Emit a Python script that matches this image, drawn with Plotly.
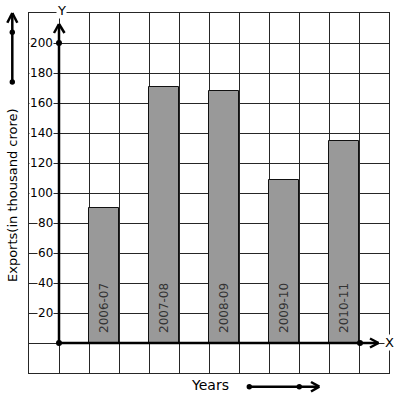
import plotly.graph_objects as go

years = ["2006-07", "2007-08", "2008-09", "2009-10", "2010-11"]
exports = [90, 171, 168, 109, 135]
y_ticks = [20, 40, 60, 80, 100, 120, 140, 160, 180, 200]

W, H = 397, 399
L, T, PW, PH = 29, 13, 360, 360
XMIN, XMAX = -1, 11
YMIN, YMAX = -20, 220

def px2x(px):
    return XMIN + (px - L) / PW * (XMAX - XMIN)

def py2y(py):
    return YMAX - (py - T) / PH * (YMAX - YMIN)

def px2p(px):
    return (px - L) / PW

def py2p(py):
    return (T + PH - py) / PH

FONT = "DejaVu Sans"
GRID = "#262626"
BAR = "#999999"

xpos = [1.5 + 2 * i for i in range(len(years))]

fig = go.Figure()
fig.add_trace(go.Bar(x=xpos, y=exports, width=1,
                     marker=dict(color=BAR, line=dict(color="#111111", width=1)),
                     hoverinfo="skip", showlegend=False))

# axis points
fig.add_trace(go.Scatter(x=[0, 0, px2x(360)], y=[0, 200, 0], mode="markers",
                         marker=dict(color="black", size=6), hoverinfo="skip",
                         showlegend=False, cliponaxis=False))

shapes = []
def seg(x0, y0, x1, y1, w=2.5, ref="data"):
    if ref == "data":
        shapes.append(dict(type="line", xref="x", yref="y", x0=x0, y0=y0, x1=x1, y1=y1,
                           line=dict(color="black", width=w), layer="above"))
    else:
        shapes.append(dict(type="line", xref="paper", yref="paper", x0=x0, y0=y0, x1=x1, y1=y1,
                           line=dict(color="black", width=w), layer="above"))

# y axis thick
seg(0, 0, 0, py2y(24))
seg(px2x(54), py2y(33), 0, py2y(24))
seg(0, py2y(24), px2x(64.5), py2y(33))
# x axis thick
seg(0, 0, px2x(378.5), 0)
seg(px2x(370), py2y(338.5), px2x(378.5), 0)
seg(px2x(378.5), 0, px2x(370), py2y(347.5))

# left decorative arrow
seg(px2p(12.3), py2p(82), px2p(12.3), py2p(13), ref="paper")
seg(px2p(7.3), py2p(22.7), px2p(12.3), py2p(13), ref="paper")
seg(px2p(12.3), py2p(13), px2p(17.3), py2p(22.7), ref="paper")
# bottom decorative arrow
seg(px2p(249.3), py2p(386.7), px2p(319.3), py2p(386.7), ref="paper")
seg(px2p(311), py2p(382), px2p(319.3), py2p(386.7), ref="paper")
seg(px2p(319.3), py2p(386.7), px2p(311), py2p(391.5), ref="paper")

def dot(px, py, r=2.7):
    shapes.append(dict(type="circle", xref="paper", yref="paper",
                       x0=px2p(px - r), x1=px2p(px + r), y0=py2p(py + r), y1=py2p(py - r),
                       fillcolor="black", line=dict(color="black", width=0), layer="above"))
dot(12.3, 32.3)
dot(12.3, 82)
dot(249.3, 386.7)
dot(299.3, 386.7)

annotations = []
for v in y_ticks:
    annotations.append(dict(x=px2x(54), y=v, xref="x", yref="y", text=str(v),
                            showarrow=False, xanchor="right", yanchor="middle",
                            bgcolor="white", borderpad=0,
                            font=dict(family=FONT, size=12, color="black")))
for xp, lab in zip(xpos, years):
    annotations.append(dict(x=xp, y=py2y(308), xref="x", yref="y", text=lab,
                            showarrow=False, textangle=-90, xanchor="center", yanchor="middle",
                            font=dict(family=FONT, size=12, color="#333333")))
annotations.append(dict(x=px2p(61), y=py2p(10), xref="paper", yref="paper", text="Y",
                        showarrow=False, bgcolor="white", borderpad=0,
                        xanchor="center", yanchor="middle",
                        font=dict(family=FONT, size=13, color="black")))
annotations.append(dict(x=px2p(389), y=py2p(342), xref="paper", yref="paper", text="X",
                        showarrow=False, bgcolor="white", borderpad=0,
                        xanchor="center", yanchor="middle",
                        font=dict(family=FONT, size=13, color="black")))
annotations.append(dict(x=px2p(209.5), y=py2p(385), xref="paper", yref="paper", text="Years",
                        showarrow=False, xanchor="center", yanchor="middle",
                        font=dict(family=FONT, size=14, color="black")))
annotations.append(dict(x=px2p(12), y=py2p(195), xref="paper", yref="paper",
                        text="Exports(in thousand crore)", showarrow=False, textangle=-90,
                        xanchor="center", yanchor="middle",
                        font=dict(family=FONT, size=13, color="black")))

fig.update_layout(
    width=W, height=H,
    margin=dict(l=L, r=W - L - PW, t=T, b=H - T - PH, pad=0),
    paper_bgcolor="white", plot_bgcolor="white",
    shapes=shapes, annotations=annotations,
    xaxis=dict(range=[XMIN, XMAX], tick0=0, dtick=1, showgrid=True, gridcolor=GRID,
               gridwidth=1, zeroline=False, showticklabels=False, ticks="",
               showline=True, linecolor=GRID, linewidth=1, mirror=True, fixedrange=True),
    yaxis=dict(range=[YMIN, YMAX], tick0=0, dtick=20, showgrid=True, gridcolor=GRID,
               gridwidth=1, zeroline=False, showticklabels=False, ticks="",
               showline=True, linecolor=GRID, linewidth=1, mirror=True, fixedrange=True),
    bargap=0,
)

fig.write_html("out.html", config={"displayModeBar": False},
               post_script="document.body.style.margin='0';document.body.style.overflow='hidden';")
